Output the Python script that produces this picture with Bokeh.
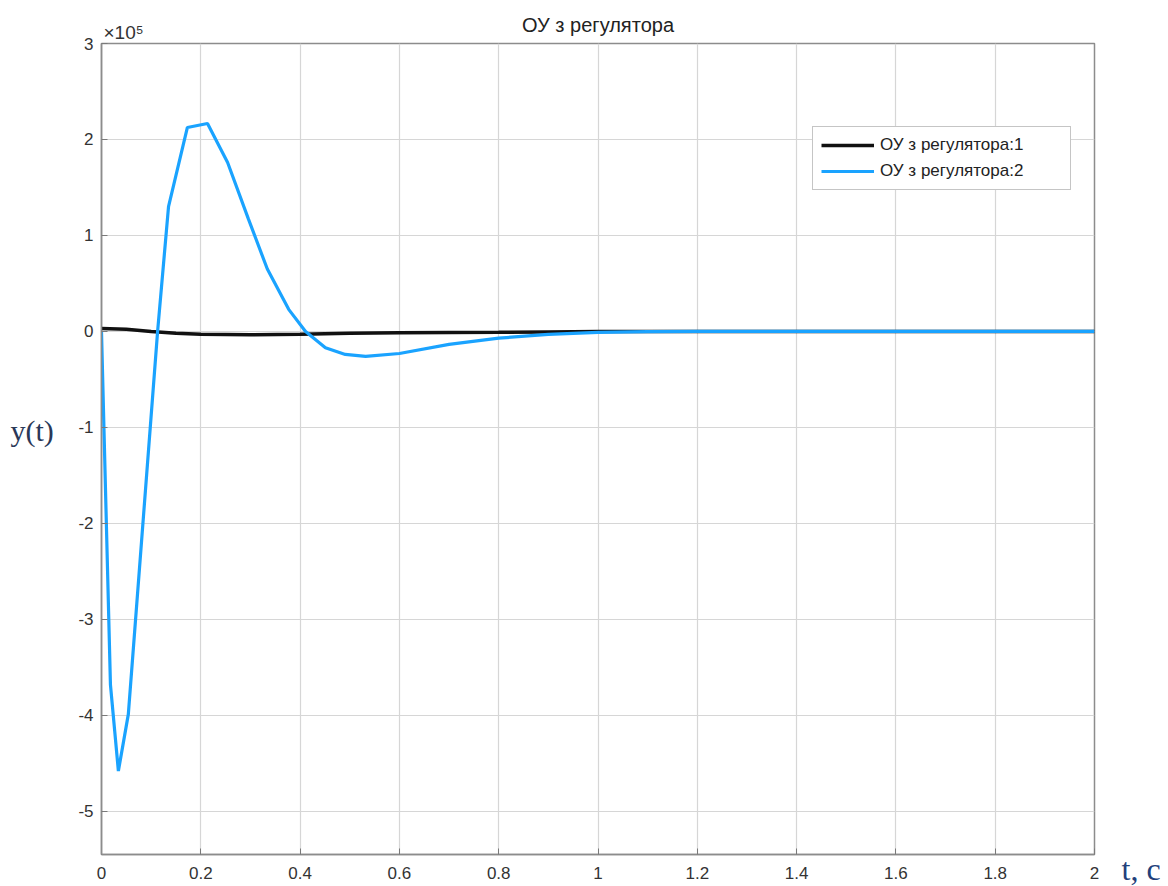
from bokeh.plotting import figure
from bokeh.models import Range1d, FixedTicker, Legend, LegendItem, Title
from bokeh.embed import file_html
from bokeh.resources import INLINE

# Closed-loop response of the plant with controller (values in units of 1e5)
t_ctrl1 = [0.0, 0.05, 0.1, 0.15, 0.2, 0.3, 0.4, 0.5, 0.6, 0.7, 0.8, 0.9, 1.0, 1.2, 1.5, 2.0]
y_ctrl1 = [0.03, 0.022, 0.0, -0.02, -0.03, -0.035, -0.03, -0.02, -0.015, -0.01, -0.008, -0.005, -0.002, 0.0, 0.0, 0.0]

t_ctrl2 = [0.0, 0.018, 0.034, 0.054, 0.113, 0.135, 0.173, 0.2135, 0.254, 0.296, 0.334, 0.377,
           0.411, 0.451, 0.491, 0.532, 0.60, 0.70, 0.80, 0.90, 1.0, 1.1, 1.2, 1.5, 2.0]
y_ctrl2 = [0.0, -3.68, -4.58, -3.99, 0.0, 1.30, 2.125, 2.167, 1.76, 1.17, 0.65, 0.23,
           0.0, -0.17, -0.24, -0.26, -0.23, -0.135, -0.07, -0.03, -0.01, -0.003, 0.0, 0.0, 0.0]

x_ticks = [0, 0.2, 0.4, 0.6, 0.8, 1, 1.2, 1.4, 1.6, 1.8, 2]
y_ticks = [-5, -4, -3, -2, -1, 0, 1, 2, 3]

FONT = "Liberation Sans"
SERIF = "Liberation Serif"

p = figure(width=1168, height=886, x_range=Range1d(0, 2), y_range=Range1d(-5.45, 3),
           output_backend="svg", toolbar_location=None,
           min_border_left=101, min_border_right=74, min_border_top=43, min_border_bottom=32)
p.title.text = ""

p.background_fill_color = "white"
p.border_fill_color = "white"
p.outline_line_color = "#8c8c8c"
p.outline_line_width = 1.5

p.xaxis.ticker = FixedTicker(ticks=x_ticks)
p.yaxis.ticker = FixedTicker(ticks=y_ticks)
p.xaxis.major_label_overrides = {0: "0", 1: "1", 2: "2"}
p.yaxis.major_label_overrides = {v: str(v) for v in y_ticks}
for ax in (p.xaxis, p.yaxis):
    ax.axis_line_color = "#8c8c8c"
    ax.axis_line_width = 1.5
    ax.major_tick_in = 6
    ax.major_tick_out = 0
    ax.major_tick_line_color = "#7a7a7a"
    ax.minor_tick_line_color = None
    ax.major_label_text_font = FONT
    ax.major_label_text_font_size = "17px"
    ax.major_label_text_color = "#333333"
p.xaxis.major_label_standoff = 12
p.yaxis.major_label_standoff = 8

p.xgrid.ticker = FixedTicker(ticks=x_ticks)
p.ygrid.ticker = FixedTicker(ticks=y_ticks)
p.grid.grid_line_color = "#d6d6d6"
p.grid.grid_line_width = 1.2

r1 = p.line(t_ctrl1, y_ctrl1, line_color="#111111", line_width=3.5)
r2 = p.line(t_ctrl2, y_ctrl2, line_color="#1aa3ff", line_width=3.2)

legend = Legend(items=[LegendItem(label="ОУ з регулятора:1", renderers=[r1]),
                       LegendItem(label="ОУ з регулятора:2", renderers=[r2])],
                location=(711, 664), orientation="vertical")
legend.label_text_font = FONT
legend.label_text_font_size = "17px"
legend.label_text_color = "#222222"
legend.glyph_width = 53
legend.glyph_height = 20
legend.label_height = 20
legend.label_width = 182
legend.label_standoff = 6
legend.spacing = 6
legend.padding = 8
legend.margin = 0
legend.border_line_color = "#8c8c8c"
legend.border_line_width = 1.5
legend.background_fill_alpha = 1.0
p.add_layout(legend)

# Scale factor of the y axis, right above the frame's top-left corner
p.add_layout(Title(text="×10⁵", align="left", offset=2, standoff=2,
                   text_font=FONT, text_font_size="19px", text_font_style="normal",
                   text_color="#333333"), "above")
# Chart title, sharing the same row as the scale factor
p.add_layout(Title(text="ОУ з регулятора", align="center", standoff=-34,
                   text_font=FONT, text_font_size="20px", text_font_style="normal",
                   text_color="#222222"), "above")
# Output caption, level with the middle of the left margin
p.add_layout(Title(text="y(t)", align="left", offset=-91, standoff=-856,
                   text_font=SERIF, text_font_size="30px", text_font_style="normal",
                   text_color="#2a3858"), "above")
# Time-axis caption to the right of the last tick label
p.add_layout(Title(text="t, c", align="left", offset=1020, standoff=-62,
                   vertical_align="top", text_font=SERIF, text_font_size="32px",
                   text_font_style="normal", text_color="#22407a"), "below")

open("out.html", "w").write(file_html(p, INLINE))
